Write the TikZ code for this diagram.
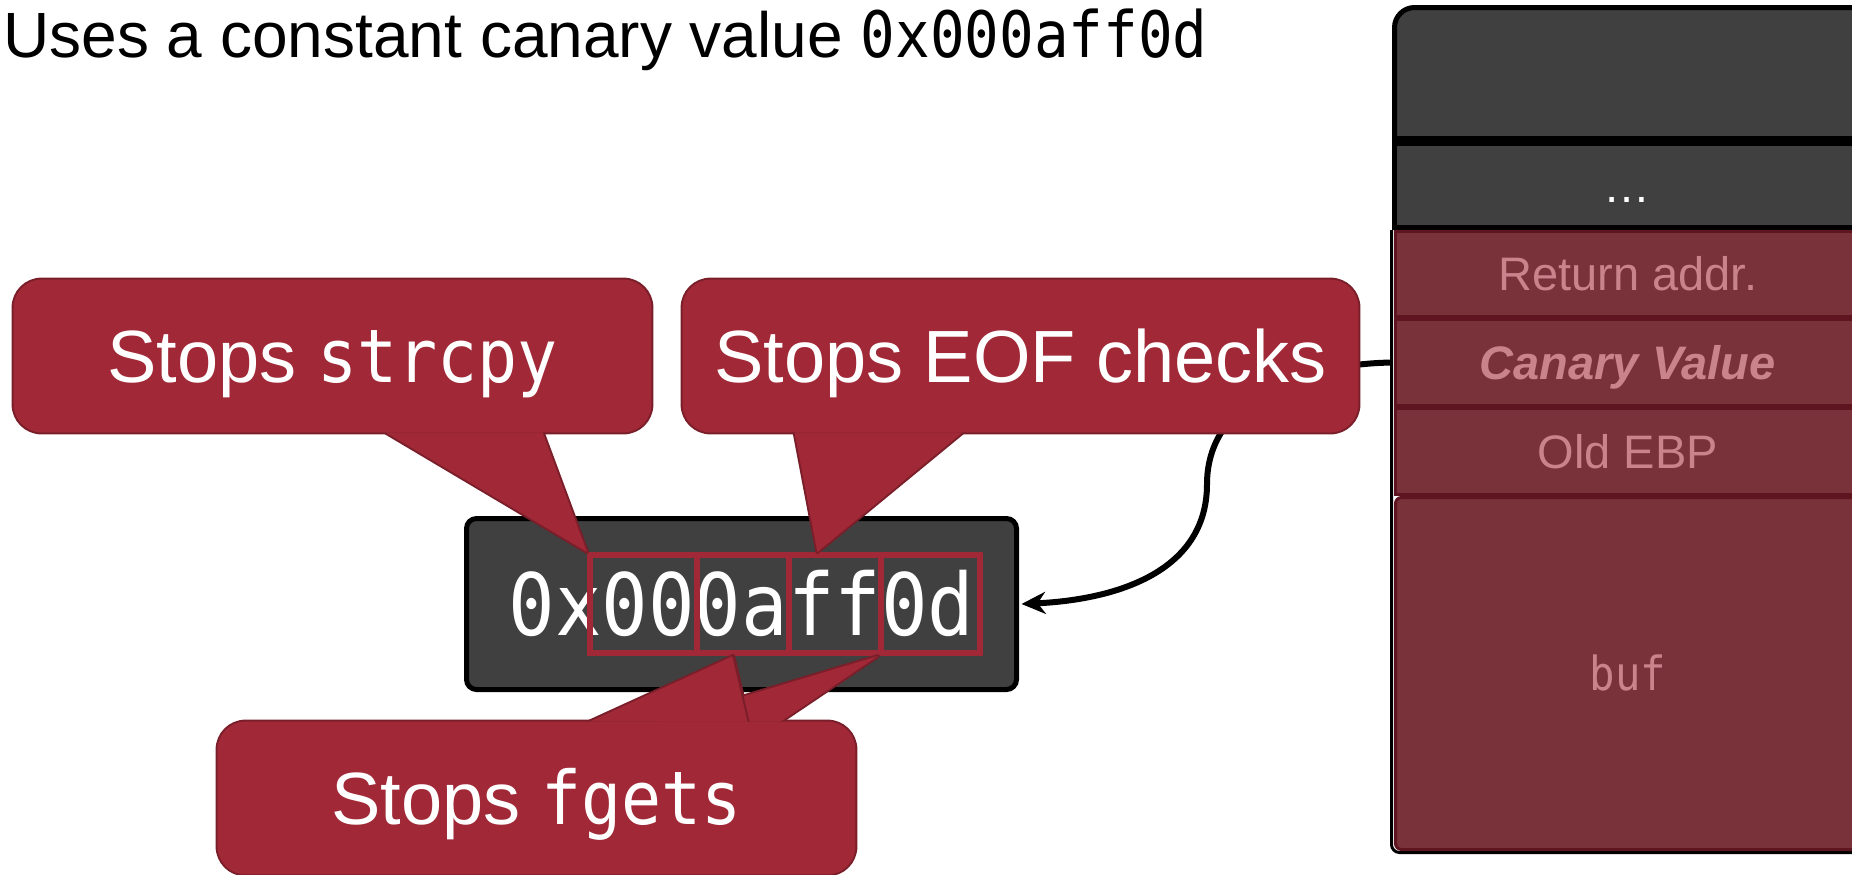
\documentclass[tikz,border=0pt]{standalone}
\usepackage{fontspec}
\setmainfont{Liberation Sans}
\newfontfamily\codefont[FakeStretch=0.9]{DejaVu Sans Mono}
\usetikzlibrary{arrows.meta,calc}
\definecolor{bubblefill}{HTML}{A12837}
\definecolor{bubbleline}{HTML}{7A1E2A}
\definecolor{cellgray}{HTML}{404040}
\definecolor{cellred}{HTML}{79313A}
\definecolor{cellredline}{HTML}{5E1520}
\definecolor{celltext}{HTML}{C9838B}
\pgfdeclarelayer{base}
\pgfdeclarelayer{bubble}
\pgfsetlayers{base,bubble,main}
\tikzset{
  hexbox/.style={draw=black, line width=2.5pt, fill=cellgray, rounded corners=5pt,
    inner sep=0pt, minimum width=275pt, minimum height=85.5pt, text=white,
    font=\fontsize{43}{50}\selectfont\codefont, text height=31pt, text depth=0pt},
  bytebox/.style={draw=bubblefill, line width=3pt, inner sep=0pt, minimum height=49pt},
  graycell/.style={draw=black, line width=2.5pt, fill=cellgray, inner sep=0pt,
    minimum width=232.75pt, text=white, font=\fontsize{23.5}{28}\selectfont,
    text height=16.8pt, text depth=0pt},
  redcell/.style={draw=cellredline, line width=1.5pt, fill=cellred, inner sep=0pt,
    minimum width=232.25pt, text=celltext, font=\fontsize{23.5}{28}\selectfont,
    text height=16.8pt, text depth=0pt},
  callout/.style={inner sep=0pt, minimum height=76pt, text=white,
    font=\fontsize{37}{44}\selectfont, text height=26.5pt, text depth=0pt},
  bubbleedge/.style={draw=bubbleline, line width=2pt, line join=round},
  link/.style={draw=black, line width=3pt, -{Stealth[length=12pt,width=11pt]}}
}
\begin{document}
\begin{tikzpicture}[x=0.5pt, y=-0.5pt]
\useasboundingbox (0,0) rectangle (1852,874);

% heading
\node[anchor=base west, inner sep=0pt, font=\fontsize{32}{38}\selectfont] (title) at (3,57)
  {Uses a constant canary value {\codefont 0x000aff0d}};

\begin{pgfonlayer}{base}
  % the canary value with its four bytes outlined
  \node[hexbox] (hex) at (741.5,604) {0x000aff0d};
  \node[bytebox, minimum width=53.5pt] (b1) at (643.5,604) {};
  \node[bytebox, minimum width=46pt]   (b2) at (743,604) {};
  \node[bytebox, minimum width=46pt]   (b3) at (835,604) {};
  \node[bytebox, minimum width=49.5pt] (b4) at (930.5,604) {};

  % stack frame
  \draw[line width=1.5pt, rounded corners=4pt] (1391.5,230) |- (1900,852.5);
  \filldraw[fill=cellgray, draw=black, line width=2.5pt]
    (1900,138.5) -- (1394.5,138.5) -- (1394.5,27.5)
    .. controls (1394.5,16.5) and (1403.5,7.5) .. (1414.5,7.5) -- (1900,7.5) -- cycle;
  \node[graycell, minimum height=42pt] (dots) at (1627.25,185.5) {…};
  \node[redcell, minimum height=42.5pt] (ret) at (1627.75,274) {Return addr.};
  \node[redcell, minimum height=43pt, font=\fontsize{23.5}{28}\selectfont\bfseries\itshape]
    (canary) at (1627.75,362.5) {Canary Value};
  \node[redcell, minimum height=43pt] (ebp) at (1627.75,451.5) {Old EBP};
  \node[redcell, minimum height=176pt, rounded corners=3pt] (buf) at (1627.75,673.5) {\codefont buf};

  % link from the stack slot to the value
  \draw[link] ([xshift=-1pt]canary.west) .. controls (1300,364) and (1207,400) .. (1207,484)
    .. controls (1207,575) and (1110,600) .. ([xshift=1.25pt]hex.east);
\end{pgfonlayer}

% callout texts
\node[callout, minimum width=318.5pt] (c1) at (332.5,356) {Stops {\codefont strcpy}};
\node[callout, minimum width=337.5pt] (c2) at (1020.5,356) {Stops EOF checks};
\node[callout, minimum width=318.5pt] (c3) at (536.5,798) {Stops {\codefont fgets}};

% tail tips and bases
\coordinate (t1) at (b1.north west);
\coordinate (t2) at ($(b3.north west)!0.32!(b3.north east)$);
\coordinate (t3a) at ($(b2.south west)!0.4!(b2.south east)$);
\coordinate (t3b) at (b4.south west);
\coordinate (c1l) at ($(c1.south west)+(372,0)$);
\coordinate (c1r) at ($(c1.south west)+(529,0)$);
\coordinate (c2l) at ($(c2.south west)+(112,0)$);
\coordinate (c2r) at ($(c2.south west)+(280,0)$);
\coordinate (c3al) at ($(c3.north west)+(372,0)$);
\coordinate (c3ar) at ($(c3.north west)+(531,0)$);
\coordinate (c3bl) at ($(c3.north west)+(442,0)$);
\coordinate (c3br) at ($(c3.north west)+(563,0)$);

\begin{pgfonlayer}{bubble}
  % outlines first, then the bodies over their inner halves
  \foreach \c in {c1,c2,c3}
    \draw[bubbleedge, rounded corners=14pt] (\c.north west) rectangle (\c.south east);
  \draw[bubbleedge] (c1l) -- (t1) -- (c1r);
  \draw[bubbleedge] (c2l) -- (t2) -- (c2r);
  \draw[bubbleedge] (c3bl) -- (t3b) -- (c3br);
  \draw[bubbleedge] (c3al) -- (t3a) -- (c3ar);
  \foreach \c in {c1,c2,c3}
    \fill[bubblefill, rounded corners=14pt] (\c.north west) rectangle (\c.south east);
  \fill[bubblefill] (c1l) -- (t1) -- (c1r) -- cycle;
  \fill[bubblefill] (c2l) -- (t2) -- (c2r) -- cycle;
  \fill[bubblefill] (c3bl) -- (t3b) -- (c3br) -- cycle;
  \fill[bubblefill] (c3al) -- (t3a) -- (c3ar) -- cycle;
  \draw[bubbleline, line width=1pt] (t3a) -- (c3ar);
\end{pgfonlayer}
\end{tikzpicture}
\end{document}
